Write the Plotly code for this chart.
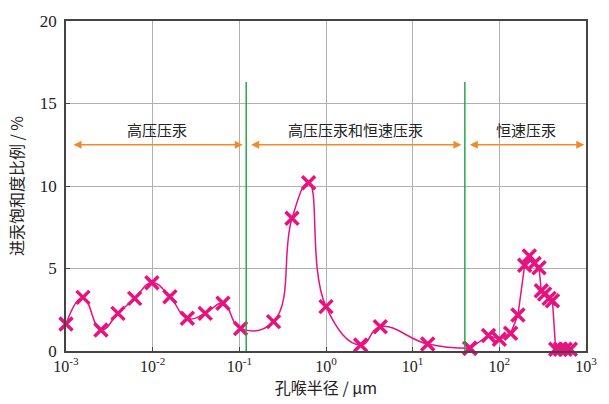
import math
import plotly.graph_objects as go

# Pore-throat radius (µm) and mercury saturation share (%)
# Smooth part of the distribution (high-pressure and mixed region)
radius_smooth = [0.001, 0.00157, 0.00253, 0.00398, 0.0062, 0.0098, 0.0158, 0.0251,
                 0.0404, 0.0647, 0.1035, 0.248, 0.405, 0.63, 1.0, 2.51, 4.23, 14.9, 45.7]
share_smooth = [1.64, 3.25, 1.27, 2.28, 3.19, 4.14, 3.29, 1.98,
                2.28, 2.89, 1.37, 1.78, 8.04, 10.2, 2.69, 0.36, 1.47, 0.42, 0.16]

# Constant-rate part of the distribution (large pores)
radius_large = [45.7, 75, 100, 135, 164, 196, 222, 252, 287, 305, 333, 375, 410,
                447, 507, 575, 660]
share_large = [0.16, 0.94, 0.71, 1.07, 2.18, 5.2, 5.76, 5.3, 5.05, 3.65, 3.45, 3.19, 3.05,
               0.1, 0.1, 0.1, 0.1]

# Region boundaries (µm) and labels
boundaries = [0.12, 40]
boundary_top = 16.3
region_labels = ["高压压汞", "高压压汞和恒速压汞", "恒速压汞"]
arrow_level = 12.5

x_tick_vals = [1e-3, 1e-2, 1e-1, 1, 10, 100, 1000]
x_tick_text = ["10<sup>-3</sup>", "10<sup>-2</sup>", "10<sup>-1</sup>", "10<sup>0</sup>",
               "10<sup>1</sup>", "10<sup>2</sup>", "10<sup>3</sup>"]
y_tick_vals = [0, 5, 10, 15, 20]

MAGENTA = "#e8127f"
GREEN = "#27a74a"
ORANGE = "#f28a2c"
SERIF = "Liberation Serif, Times New Roman, serif"
CJK = "Noto Sans CJK SC"

fig = go.Figure()

marker = dict(symbol="x-thin", size=13, line=dict(width=3.5, color=MAGENTA), color=MAGENTA)

fig.add_trace(go.Scatter(
    x=radius_smooth, y=share_smooth, mode="lines+markers",
    line=dict(color=MAGENTA, width=1.5, shape="spline", smoothing=1.3),
    marker=marker, cliponaxis=False, showlegend=False))

fig.add_trace(go.Scatter(
    x=radius_large, y=share_large, mode="lines+markers",
    line=dict(color=MAGENTA, width=1.5),
    marker=marker, cliponaxis=False, showlegend=False))

for b in boundaries:
    fig.add_trace(go.Scatter(
        x=[b, b], y=[0, boundary_top], mode="lines",
        line=dict(color=GREEN, width=1.5), showlegend=False, hoverinfo="skip"))

# Double-headed arrows spanning each region
edges = [1e-3, boundaries[0], boundaries[1], 1e3]
gap = 0.04  # decades kept clear around each boundary
annotations = []
for i, label in enumerate(region_labels):
    lo = math.log10(edges[i]) + (gap if i > 0 else 0.07)
    hi = math.log10(edges[i + 1]) - (gap if i < 2 else 0.02)
    annotations.append(dict(
        x=hi, y=arrow_level, ax=lo, ay=arrow_level, xref="x", yref="y",
        axref="x", ayref="y", text="", showarrow=True, arrowhead=2, arrowsize=1,
        arrowwidth=1.6, arrowcolor=ORANGE, arrowside="end+start"))
    annotations.append(dict(
        x=(lo + hi) / 2, y=arrow_level + 0.15, xref="x", yref="y", text=label,
        showarrow=False, yanchor="bottom",
        font=dict(family=CJK, size=15, color="#222")))

fig.update_layout(
    width=609, height=404,
    margin=dict(l=66, r=13, t=21, b=53),
    paper_bgcolor="white", plot_bgcolor="white",
    annotations=annotations,
    xaxis=dict(
        type="log", range=[-3, 3], tickvals=x_tick_vals, ticktext=x_tick_text,
        showgrid=True, gridcolor="#b0b0b0", gridwidth=1,
        showline=True, linecolor="#444", linewidth=1.5, mirror=True,
        ticks="inside", ticklen=4, tickcolor="#444",
        tickfont=dict(family=SERIF, size=16, color="#222"),
        title=dict(text="孔喉半径 / μm", font=dict(family=CJK, size=16, color="#222"),
                   standoff=4),
        zeroline=False),
    yaxis=dict(
        range=[0, 20], tickvals=y_tick_vals,
        showgrid=True, gridcolor="#b0b0b0", gridwidth=1,
        showline=True, linecolor="#444", linewidth=1.5, mirror=True,
        ticks="inside", ticklen=4, tickcolor="#444", ticklabelstandoff=4,
        tickfont=dict(family=SERIF, size=17, color="#222"),
        title=dict(text="进汞饱和度比例 / %", font=dict(family=CJK, size=16, color="#222"),
                   standoff=12),
        zeroline=False),
)

fig.write_html("out.html")
